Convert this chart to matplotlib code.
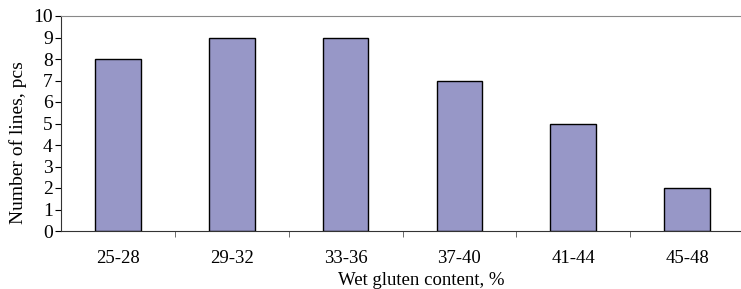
import numpy as np
import matplotlib.pyplot as plt

categories = ['25-28', '29-32', '33-36', '37-40', '41-44', '45-48']
counts = [8, 9, 9, 7, 5, 2]

plt.rcParams['font.family'] = 'Liberation Serif'

fig = plt.figure(figsize=(7.41, 2.89), dpi=100)
ax = fig.add_axes([61 / 741, 1 - 231 / 289, 683 / 741, 215 / 289])

x = np.arange(len(categories))
ax.bar(x, counts, width=0.4, color='#9797c7', edgecolor='black', linewidth=1.0)

ax.set_xlim(-0.5, len(categories) - 0.5)
ax.set_ylim(0, 10)
ax.set_yticks(range(0, 11))
ax.tick_params(axis='y', direction='out', length=4, labelsize=14, pad=2)

ax.set_xticks(x)
ax.set_xticklabels(categories)
ax.tick_params(axis='x', which='major', length=0, labelsize=13.5, pad=14)
ax.set_xticks(np.arange(0.5, len(categories) - 0.5, 1), minor=True)
ax.tick_params(axis='x', which='minor', direction='out', length=4, color='#555555')

ax.spines['top'].set_color('#888888')
ax.spines['right'].set_visible(False)
ax.spines['left'].set_color('#333333')
ax.spines['bottom'].set_color('#333333')

ax.set_ylabel('Number of lines, pcs', fontsize=14)
ax.yaxis.set_label_coords(-0.05, 0.41)
ax.set_xlabel('Wet gluten content, %', fontsize=13.5)
ax.xaxis.set_label_coords(0.527, -0.19)

plt.savefig('out.png', dpi=100)
